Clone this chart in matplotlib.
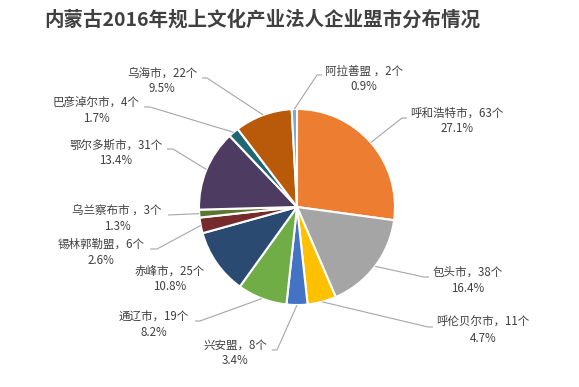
import numpy as np
import matplotlib
matplotlib.use("Agg")
import matplotlib.pyplot as plt

plt.rcParams['font.family'] = ['Noto Sans CJK SC', 'DejaVu Sans']

# 数据（顺时针，从12点方向开始）
names = ['呼和浩特市', '包头市', '呼伦贝尔市', '兴安盟', '通辽市', '赤峰市',
         '锡林郭勒盟', '乌兰察布市 ', '鄂尔多斯市', '巴彦淖尔市', '乌海市', '阿拉善盟 ']
counts = [63, 38, 11, 8, 19, 25, 6, 3, 31, 4, 22, 2]
pct_labels = ['27.1%', '16.4%', '4.7%', '3.4%', '8.2%', '10.8%',
              '2.6%', '1.3%', '13.4%', '1.7%', '9.5%', '0.9%']
colors = ['#ED7D31', '#A5A5A5', '#FFC000', '#4472C4', '#70AD47', '#2B4A72',
          '#752B2B', '#5C7632', '#4E3B61', '#1F6675', '#B85A0A', '#7FA4D9']

# 布局（像素坐标，y 向下）
W, H = 579, 387
cx, cy, r = 297, 207, 98
label_xy = [(457, 121), (468, 280), (483, 330), (235, 353), (154, 325), (170, 279),
            (101, 252), (117, 218), (116, 153), (96, 110), (162, 81), (364, 79)]
# 引导线折点和终点，None 表示没有引导线
elbows = [((402, 118), (407, 118)), ((424, 277), (429, 277)), ((428, 327), (433, 327)),
          ((277, 350), (272, 350)), ((200, 321), (195, 321)), None,
          ((157, 249), (150, 249)), ((168, 215), (168, 215)), ((173, 149), (167, 149)),
          ((150, 107), (144, 107)), ((207, 78), (202, 78)), ((317, 75), (322, 75))]

fig = plt.figure(figsize=(W / 100, H / 100), dpi=100)
ax = fig.add_axes([0, 0, 1, 1])

wedges, _ = ax.pie(counts, colors=colors, startangle=90, counterclock=False,
                   center=(cx, H - cy), radius=r,
                   wedgeprops=dict(edgecolor='white', linewidth=1.5))

for w, name, n, pct, (lx, ly), el in zip(wedges, names, counts, pct_labels, label_xy, elbows):
    if el is not None:
        mid = np.deg2rad((w.theta1 + w.theta2) / 2)
        sx = cx + r * np.cos(mid)
        sy = H - cy + r * np.sin(mid)
        (ex, ey), (fx, fy) = el
        ax.plot([sx, ex, fx], [sy, H - ey, H - fy], color='#A6A6A6', lw=0.8,
                solid_capstyle='butt', zorder=1)
    ax.text(lx, H - ly, f'{name}，{n}个\n{pct}', ha='center', va='center',
            multialignment='center', fontsize=8.3, color='#404040', linespacing=1.3)

fig.text(262 / W, 1 - 20 / H, '内蒙古2016年规上文化产业法人企业盟市分布情况',
         ha='center', va='center', fontsize=14, fontweight='bold', color='#404040')

ax.set_xlim(0, W)
ax.set_ylim(0, H)
ax.set_aspect('equal')
ax.axis('off')

fig.savefig('out.png', dpi=100)
